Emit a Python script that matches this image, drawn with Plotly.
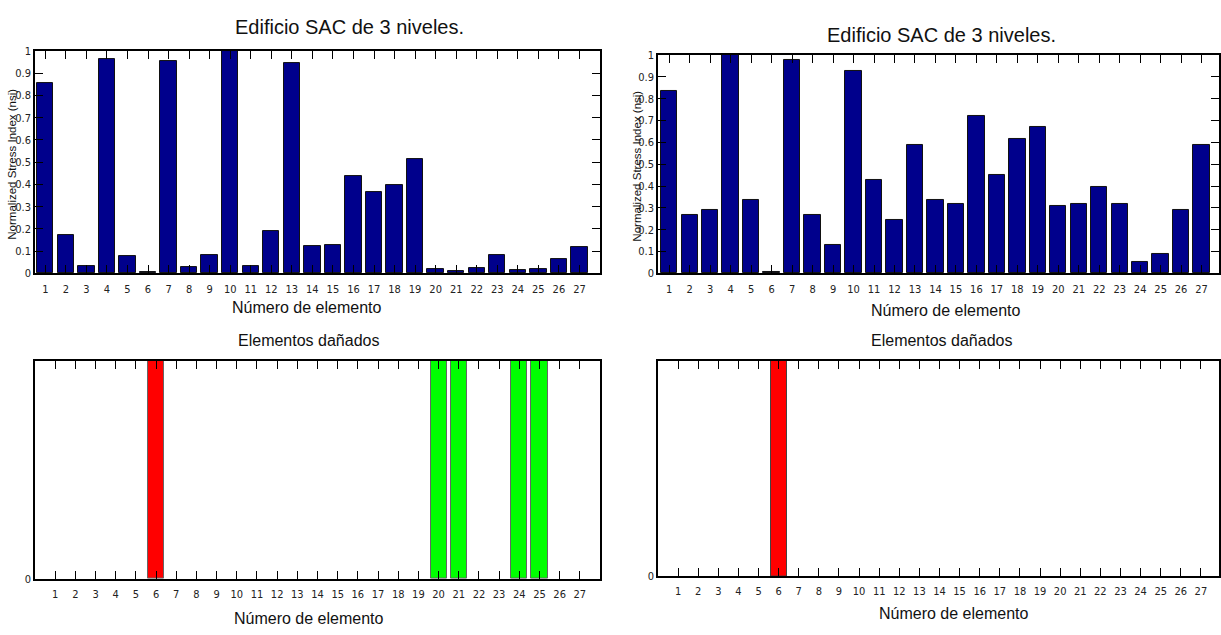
import plotly.graph_objects as go

elements = list(range(1, 28))
tick_labels = [str(i) for i in elements]

nsi_left = [0.857, 0.174, 0.031, 0.966, 0.078, 0.006, 0.953, 0.027, 0.083, 1.000,
            0.031, 0.189, 0.944, 0.122, 0.127, 0.438, 0.367, 0.398, 0.516, 0.018,
            0.009, 0.022, 0.083, 0.013, 0.018, 0.066, 0.118]
nsi_right = [0.835, 0.266, 0.292, 1.000, 0.334, 0.005, 0.979, 0.266, 0.130, 0.928,
             0.428, 0.246, 0.587, 0.334, 0.320, 0.722, 0.451, 0.614, 0.671, 0.311,
             0.316, 0.394, 0.320, 0.051, 0.091, 0.292, 0.587]

damaged_left = [6, 20, 21, 24, 25]
damaged_left_colors = ["#ff0000", "#00ff00", "#00ff00", "#00ff00", "#00ff00"]
damaged_right = [6]
damaged_right_colors = ["#ff0000"]
damaged_height = [1, 1, 1, 1, 1]

y_ticks = [0, 0.1, 0.2, 0.3, 0.4, 0.5, 0.6, 0.7, 0.8, 0.9, 1]
y_tick_text = ["0", "0.1", "0.2", "0.3", "0.4", "0.5", "0.6", "0.7", "0.8", "0.9", "1"]

title_top = "Edificio SAC de 3 niveles."
title_bottom = "Elementos dañados"
x_title = "Número de elemento"
y_title = "Normalized Stress Index (nsi)"

W, H = 1221, 635
NAVY = "#00008c"
TICKFONT = dict(family="Liberation Sans Narrow, DejaVu Sans Condensed, Liberation Sans, Arial", size=11, color="#222")

def px(x):
    return x / W

def py(y):
    return 1 - y / H

fig = go.Figure()

fig.add_trace(go.Bar(x=elements, y=nsi_left, width=0.8, marker=dict(color=NAVY, line=dict(color="#111", width=1)),
                     xaxis="x", yaxis="y", showlegend=False))
fig.add_trace(go.Bar(x=elements, y=nsi_right, width=0.8, marker=dict(color=NAVY, line=dict(color="#111", width=1)),
                     xaxis="x2", yaxis="y2", showlegend=False))
fig.add_trace(go.Bar(x=damaged_left, y=damaged_height[:len(damaged_left)], width=0.8,
                     marker=dict(color=damaged_left_colors, line=dict(color="#666", width=1)),
                     xaxis="x3", yaxis="y3", showlegend=False))
fig.add_trace(go.Bar(x=damaged_right, y=damaged_height[:len(damaged_right)], width=0.8,
                     marker=dict(color=damaged_right_colors, line=dict(color="#444", width=1)),
                     xaxis="x4", yaxis="y4", showlegend=False))

def xax(domain, rng, anchor):
    return dict(domain=domain, range=rng, anchor=anchor, tickvals=elements, ticktext=tick_labels,
                ticks="inside", ticklen=8, tickwidth=1, tickcolor="#000", mirror="ticks",
                showline=True, linecolor="#000", linewidth=2, showgrid=False, zeroline=False,
                tickfont=TICKFONT, ticklabelstandoff=4, fixedrange=True)

def yax(domain, tv, tt, anchor, rng):
    return dict(domain=domain, range=rng, anchor=anchor, tickvals=tv, ticktext=tt,
                ticks="inside", ticklen=8, tickwidth=1, tickcolor="#000", mirror="ticks",
                showline=True, linecolor="#000", linewidth=1.5, showgrid=False, zeroline=False,
                tickfont=TICKFONT, fixedrange=True)

fig.update_layout(
    width=W, height=H, margin=dict(l=0, r=0, t=0, b=0),
    paper_bgcolor="white", plot_bgcolor="white", bargap=0,
    xaxis=xax([px(35), px(600)], [0.5, 28.0], "y"),
    yaxis=yax([py(273), py(46)], y_ticks, y_tick_text, "x", [0, 1]),
    xaxis2=xax([px(658), px(1219)], [0.45, 27.85], "y2"),
    yaxis2=yax([py(273), py(50)], y_ticks, y_tick_text, "x2", [0, 1]),
    xaxis3=xax([px(35), px(600)], [0, 28], "y3"),
    yaxis3=yax([py(585), py(362)], [0], ["0"], "x3", [0, 1]),
    xaxis4=xax([px(658), px(1219)], [0, 27.9], "y4"),
    yaxis4=yax([py(582), py(362)], [0], ["0"], "x4", [0, 1]),
)

TXT = "Liberation Sans, Arial, sans-serif"
ann = []
def add_text(text, x, y, size, angle=0):
    ann.append(dict(text=text, x=px(x), y=py(y), xref="paper", yref="paper", showarrow=False,
                    xanchor="center", yanchor="middle", textangle=angle,
                    font=dict(family=TXT, size=size, color="#111")))

add_text(title_top, 349, 21, 20)
add_text(title_top, 941, 30, 20)
add_text(x_title, 307, 308, 16)
add_text(x_title, 946, 311, 16)
add_text(y_title, 12, 162, 11.5, -90)
add_text(y_title, 637, 164, 11.5, -90)
add_text(title_bottom, 308, 341, 16)
add_text(title_bottom, 941, 341, 16)
add_text(x_title, 309, 625, 16)
add_text(x_title, 954, 620, 16)
fig.update_layout(annotations=ann)

fig.write_html("out.html")
